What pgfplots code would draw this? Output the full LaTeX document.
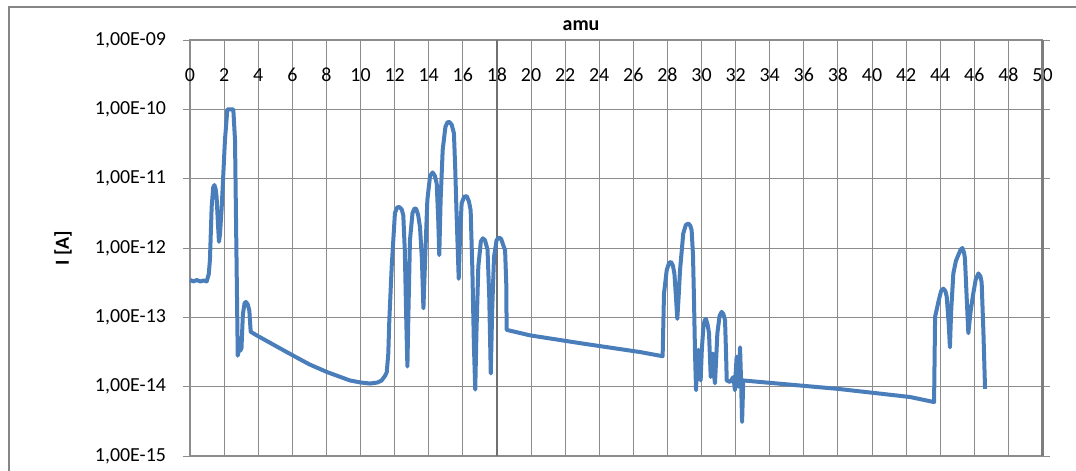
\documentclass[border=0pt]{standalone}
\usepackage{fontspec}
\setmainfont{Carlito}
\usepackage{pgfplots}
\pgfplotsset{compat=1.18}
\definecolor{xlblue}{HTML}{4A7EBB}
\definecolor{xlgrid}{HTML}{8C8C8C}
\definecolor{xlframe}{HTML}{868686}
\begin{document}
\begin{tikzpicture}[x=1bp,y=1bp]
\path[use as bounding box] (0,0) rectangle (538,235);
\draw[xlframe, line width=0.9bp] (4.5,-20) -- (4.5,231.5) -- (600,231.5);
\begin{axis}[
  at={(95bp,7bp)}, anchor=south west, scale only axis,
  width=426.25bp, height=208bp,
  /pgf/number format/assume math mode=true,
  xmin=0, xmax=50, xtick={0,2,...,50},
  xticklabel pos=upper,
  xticklabel style={anchor=center, yshift=-17.5bp, font=\fontsize{10}{12}\selectfont},
  x tick style={draw=none},
  ymode=log, ymin=1e-15, ymax=1e-9,
  ytick={1e-15,1e-14,1e-13,1e-12,1e-11,1e-10,1e-9},
  yticklabels={{1,00E-15},{1,00E-14},{1,00E-13},{1,00E-12},{1,00E-11},{1,00E-10},{1,00E-09}},
  yticklabel style={font=\fontsize{10}{12}\selectfont, xshift=-5bp},
  ytick align=outside, major tick length=3.5bp,
  y tick style={xlgrid, line width=0.5bp},
  yminorticks=false,
  grid=major, grid style={xlgrid, line width=0.5bp},
  axis line style={xlgrid, line width=0.6bp},
  ylabel={\bfseries I [A]},
  ylabel style={at={(axis description cs:-0.149,0.5)}, anchor=center, font=\fontsize{10}{12}\selectfont},
  clip=false,
]
\node[anchor=base, font=\fontsize{10}{12}\selectfont\bfseries] at ([yshift=5bp]axis description cs:0.4587,1) {amu};
\draw[xlgrid!80!black, line width=1.1bp] (axis cs:18,1e-15) -- (axis cs:18,1e-9);
\draw[xlgrid!90!black, line width=1.1bp] (axis cs:50,1e-15) -- (axis cs:50,1e-9);
\addplot[xlblue, line width=2bp, line join=round, mark=none] table {
x y
0 3.47e-13
0.2 3.30e-13
0.4 3.45e-13
0.6 3.30e-13
0.8 3.40e-13
0.98 3.30e-13
1.10 4.2e-13
1.17 6.8e-13
1.27 3.9e-12
1.36 7.5e-12
1.43 8.1e-12
1.50 7.2e-12
1.56 5.5e-12
1.64 2.2e-12
1.70 1.23e-12
1.76 1.6e-12
1.86 3.9e-12
2.05 3.6e-11
2.19 1.0e-10
2.54 1.0e-10
2.64 3.6e-11
2.80 2.8e-14
2.86 3.3e-14
2.95 3.3e-14
3.02 3.6e-14
3.10 1.1e-13
3.20 1.6e-13
3.28 1.67e-13
3.38 1.55e-13
3.48 1.25e-13
3.53 8e-14
3.56 6.2e-14
3.91 5.5e-14
5.0 3.9e-14
6.06 2.8e-14
7.0 2.1e-14
8.05 1.62e-14
9.38 1.23e-14
10.0 1.15e-14
10.56 1.11e-14
11.0 1.15e-14
11.24 1.23e-14
11.45 1.45e-14
11.54 1.62e-14
11.63 3.0e-14
11.69 9.1e-14
11.83 5.4e-13
12.02 3.2e-12
12.15 3.85e-12
12.28 3.9e-12
12.42 3.6e-12
12.51 2.95e-12
12.60 9e-13
12.68 1e-13
12.75 1.95e-14
12.82 1.5e-13
12.90 1.29e-12
13.05 3.2e-12
13.16 3.7e-12
13.26 3.7e-12
13.38 3.0e-12
13.49 2.0e-12
13.60 7e-13
13.69 1.35e-13
13.80 8e-13
13.92 4.9e-12
14.08 1.1e-11
14.23 1.23e-11
14.36 1.1e-11
14.47 8.5e-12
14.56 2.5e-12
14.62 7.9e-13
14.70 5e-12
14.82 2.6e-11
14.98 5.6e-11
15.10 6.5e-11
15.21 6.6e-11
15.35 6.0e-11
15.48 4.5e-11
15.56 1.3e-11
15.64 2.8e-12
15.76 3.6e-13
15.84 1.5e-12
15.93 4.4e-12
16.08 5.5e-12
16.23 5.6e-12
16.36 4.7e-12
16.46 3.5e-12
16.56 5e-13
16.65 4e-14
16.73 9.1e-15
16.80 6e-14
16.91 5.4e-13
17.06 1.25e-12
17.18 1.38e-12
17.30 1.3e-12
17.45 9.5e-13
17.55 2e-13
17.64 1.55e-14
17.72 1.2e-13
17.83 7.4e-13
17.98 1.3e-12
18.12 1.42e-12
18.25 1.35e-12
18.40 1.05e-12
18.48 9.3e-13
18.55 3e-13
18.57 6.6e-14
19.94 5.5e-14
23.0 4.2e-14
26.39 3.16e-14
27.72 2.75e-14
27.80 2.2e-13
27.96 4.8e-13
28.10 6.1e-13
28.21 6.3e-13
28.32 5.6e-13
28.41 4.3e-13
28.50 2.0e-13
28.58 9.5e-14
28.66 2.0e-13
28.74 4.8e-13
28.93 1.62e-12
29.08 2.15e-12
29.23 2.26e-12
29.34 2.1e-12
29.42 1.82e-12
29.50 8e-13
29.56 1.78e-13
29.62 3e-14
29.68 8.9e-15
29.74 2.5e-14
29.81 3.4e-14
29.88 1.6e-14
29.95 1.23e-14
30.02 3.5e-14
30.11 7.2e-14
30.18 9.0e-14
30.26 9.5e-14
30.36 7.8e-14
30.44 5.9e-14
30.50 2.5e-14
30.54 1.38e-14
30.60 2.5e-14
30.66 3.0e-14
30.72 1.6e-14
30.79 1.12e-14
30.86 2.5e-14
30.93 5.9e-14
31.06 1.05e-13
31.18 1.2e-13
31.28 1.12e-13
31.38 9.1e-14
31.44 3e-14
31.48 1.23e-14
31.67 1.17e-14
31.87 1.38e-14
31.96 8.9e-15
32.00 1.5e-14
32.06 2.7e-14
32.16 1.0e-14
32.26 3.7e-14
32.32 1.23e-14
32.38 3.1e-15
32.45 1.23e-14
33.43 1.17e-14
38.0 9.3e-15
42.23 7.1e-15
43.64 6.0e-15
43.70 1.02e-13
43.89 1.66e-13
44.05 2.4e-13
44.18 2.6e-13
44.30 2.4e-13
44.38 2.0e-13
44.50 8e-14
44.57 3.7e-14
44.64 1.2e-13
44.77 4.3e-13
44.92 6.5e-13
45.06 7.9e-13
45.20 9.5e-13
45.30 1.0e-12
45.40 8.5e-13
45.45 7.1e-13
45.55 2.0e-13
45.65 5.9e-14
45.78 1.2e-13
45.91 2.0e-13
46.08 3.5e-13
46.24 4.3e-13
46.36 3.9e-13
46.43 3.2e-13
46.53 6.6e-14
46.63 9.3e-15
};
\end{axis}
\end{tikzpicture}
\end{document}
